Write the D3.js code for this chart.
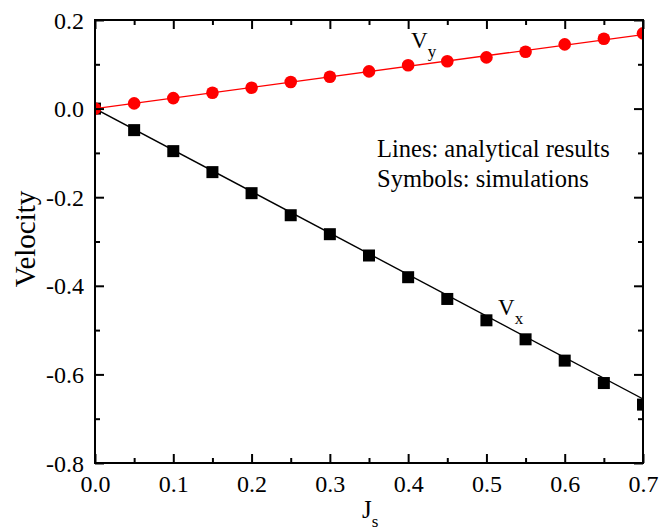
<!DOCTYPE html>
<html>
<head>
<meta charset="utf-8">
<script src="https://cdn.jsdelivr.net/npm/d3@7"></script>
<style>
  body { margin: 0; background: #fff; }
  text { font-family: "Liberation Serif", "Times New Roman", serif; fill: #000; }
</style>
</head>
<body>
<svg id="chart"></svg>
<script>
// simulation points (symbols)
var simJ  = [0, 0.05, 0.1, 0.15, 0.2, 0.25, 0.3, 0.35, 0.4, 0.45, 0.5, 0.55, 0.6, 0.65, 0.7];
var simVx = [0, -0.0486, -0.096, -0.1434, -0.1909, -0.2407, -0.2835, -0.3316, -0.3806, -0.4297, -0.4779, -0.5208, -0.5689, -0.6195, -0.6682];
var simVy = [0, 0.0117, 0.0237, 0.0357, 0.047, 0.060, 0.072, 0.084, 0.0977, 0.107, 0.1156, 0.1284, 0.145, 0.1577, 0.1699];

// analytical results (lines)
var lineJ  = [0, 0.7];
var lineVx = [0, -0.6555];
var lineVy = [0, 0.167];

// ticks
var xMajor = [0, 0.1, 0.2, 0.3, 0.4, 0.5, 0.6, 0.7];
var xMinor = [0.05, 0.15, 0.25, 0.35, 0.45, 0.55, 0.65];
var yMajor = [-0.8, -0.6, -0.4, -0.2, 0.0, 0.2];
var yMinor = [-0.7, -0.5, -0.3, -0.1, 0.1];

var screen = {width: 661, height: 532};
var margins = {top: 20, bottom: 69, left: 95, right: 18};
var graph = {
    width: screen.width - margins.left - margins.right,
    height: screen.height - margins.top - margins.bottom
};

var svg = d3.select("#chart")
    .attr("width", screen.width)
    .attr("height", screen.height);

var xScale = d3.scaleLinear().domain([0, 0.7]).range([0, graph.width]);
var yScale = d3.scaleLinear().domain([-0.8, 0.2]).range([graph.height, 0]);

// plain hyphen for negatives, like the original
var fmt = function(d) { return d3.format(".1f")(d).replace("\u2212", "-"); };

var g = svg.append("g")
    .attr("transform", "translate(" + margins.left + "," + margins.top + ")");

g.append("clipPath").attr("id", "clip")
    .append("rect")
    .attr("width", graph.width)
    .attr("height", graph.height);

var plot = g.append("g").attr("clip-path", "url(#clip)");

// lines
var line = function(vals) {
    return d3.line()
        .x(function(d, i) { return xScale(lineJ[i]); })
        .y(function(d) { return yScale(d); })(vals);
};
plot.append("path").attr("d", line(lineVx))
    .attr("fill", "none").attr("stroke", "#000").attr("stroke-width", 1.4);
plot.append("path").attr("d", line(lineVy))
    .attr("fill", "none").attr("stroke", "#ff0000").attr("stroke-width", 1.4);

// symbols
plot.selectAll(".sq").data(simVx).enter()
    .append("rect")
    .attr("x", function(d, i) { return xScale(simJ[i]) - 6; })
    .attr("y", function(d) { return yScale(d) - 6; })
    .attr("width", 12).attr("height", 12)
    .attr("fill", "#000");

plot.selectAll(".ci").data(simVy).enter()
    .append("circle")
    .attr("cx", function(d, i) { return xScale(simJ[i]); })
    .attr("cy", function(d) { return yScale(d); })
    .attr("r", 6.3)
    .attr("fill", "#ff0000");

// axes with inward ticks
var styleAxis = function(sel) {
    sel.attr("font-size", 24).attr("font-family", "Liberation Serif, serif");
    sel.select(".domain").remove();
    sel.selectAll("line").attr("stroke", "#000").attr("stroke-width", 2);
    sel.selectAll("text").style("font-size", "24px").attr("fill", "#000");
};

var bottomAx = g.append("g").attr("transform", "translate(0," + graph.height + ")");
bottomAx.call(d3.axisBottom(xScale).tickValues(xMajor).tickSize(-9).tickFormat(fmt))
    .call(styleAxis);
bottomAx.selectAll("text").attr("y", 29).attr("dy", 0);
bottomAx.append("g").call(d3.axisBottom(xScale).tickValues(xMinor).tickSize(-5).tickFormat(""))
    .call(styleAxis);

var topAx = g.append("g");
topAx.call(d3.axisTop(xScale).tickValues(xMajor).tickSize(-9).tickFormat("")).call(styleAxis);
topAx.append("g").call(d3.axisTop(xScale).tickValues(xMinor).tickSize(-5).tickFormat(""))
    .call(styleAxis);

var leftAx = g.append("g");
leftAx.call(d3.axisLeft(yScale).tickValues(yMajor).tickSize(-9).tickFormat(fmt))
    .call(styleAxis);
leftAx.selectAll("text").attr("x", -11).attr("dy", 8);
leftAx.append("g").call(d3.axisLeft(yScale).tickValues(yMinor).tickSize(-5).tickFormat(""))
    .call(styleAxis);

var rightAx = g.append("g").attr("transform", "translate(" + graph.width + ",0)");
rightAx.call(d3.axisRight(yScale).tickValues(yMajor).tickSize(-9).tickFormat("")).call(styleAxis);
rightAx.append("g").call(d3.axisRight(yScale).tickValues(yMinor).tickSize(-5).tickFormat(""))
    .call(styleAxis);

// frame
g.append("rect")
    .attr("width", graph.width).attr("height", graph.height)
    .attr("fill", "none").attr("stroke", "#000").attr("stroke-width", 2);

// axis titles
svg.append("text")
    .attr("transform", "translate(35,239) rotate(-90)")
    .attr("text-anchor", "middle")
    .attr("font-size", 29)
    .text("Velocity");

var jt = svg.append("text")
    .attr("x", 362).attr("y", 518)
    .attr("font-size", 25)
    .text("J");
jt.append("tspan").attr("font-size", 17).attr("dy", 9).text("s");

// series labels
var vy = svg.append("text").attr("x", 411).attr("y", 48).attr("font-size", 23).text("V");
vy.append("tspan").attr("font-size", 17).attr("dy", 9).text("y");

var vx = svg.append("text").attr("x", 498).attr("y", 315).attr("font-size", 23).text("V");
vx.append("tspan").attr("font-size", 17).attr("dy", 9).text("x");

// note
svg.append("text").attr("x", 377).attr("y", 157).attr("font-size", 24.5)
    .text("Lines: analytical results");
svg.append("text").attr("x", 377).attr("y", 187).attr("font-size", 24.5)
    .text("Symbols: simulations");
</script>
</body>
</html>
